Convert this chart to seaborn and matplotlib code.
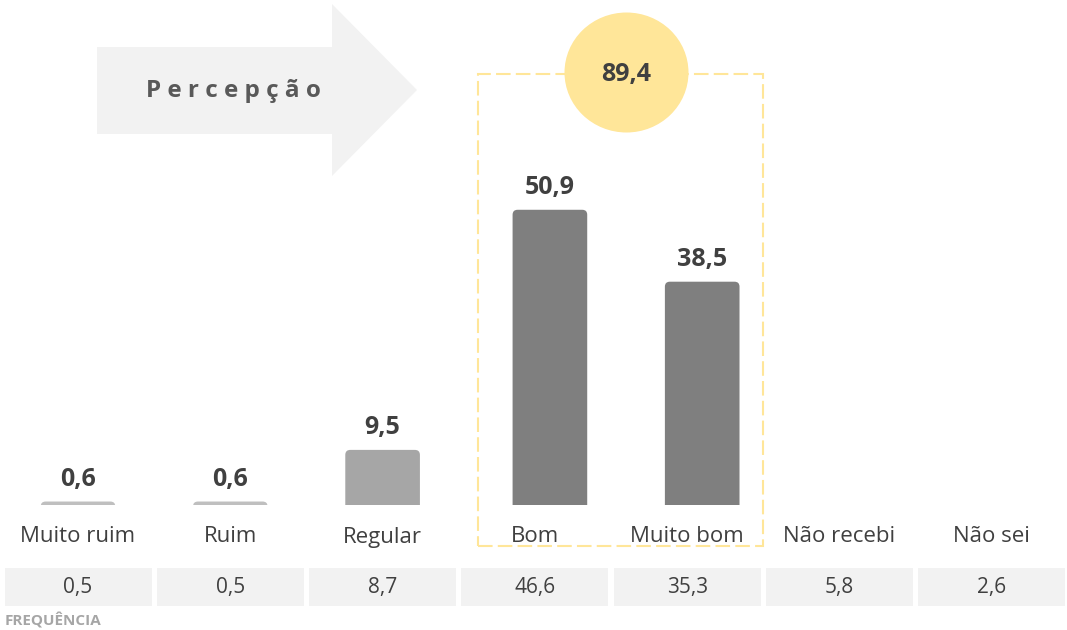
import matplotlib
matplotlib.use("Agg")
import matplotlib.pyplot as plt
import matplotlib.transforms as mtransforms
from matplotlib.patches import Polygon, Ellipse, Rectangle, FancyBboxPatch
import seaborn as sns
import pandas as pd

# Data
categories = ["Muito ruim", "Ruim", "Regular", "Bom", "Muito bom", "Não recebi", "Não sei"]
perception_cats = ["Muito ruim", "Ruim", "Regular", "Bom", "Muito bom"]
perception_vals = [0.6, 0.6, 9.5, 50.9, 38.5]
frequency_vals = [0.5, 0.5, 8.7, 46.6, 35.3, 5.8, 2.6]
positive_total = 89.4
highlighted = ["Bom", "Muito bom"]
bar_colors = ["#BFBFBF", "#BFBFBF", "#A6A6A6", "#7F7F7F", "#7F7F7F"]

sns.set_theme(style="white")
plt.rcParams["font.family"] = ["Open Sans", "DejaVu Sans"]

W, H = 1067, 630
fig = plt.figure(figsize=(W / 100, H / 100), dpi=100)
fig.patch.set_facecolor("white")

def fx(px):
    return px / W

def fy(py):
    return 1 - py / H

# Main bar axes: baseline at y=505 px, categories spaced ~152 px
step = 152.3
x0 = 78
px_per_unit = 5.8
ax = fig.add_axes([0, fy(505), 1, 505 / H])

df = pd.DataFrame({"cat": perception_cats, "val": perception_vals})
sns.barplot(data=df, x="cat", y="val", hue="cat", order=categories,
            hue_order=perception_cats, palette=bar_colors, legend=False,
            width=0.49, ax=ax, saturation=1)
ax.set_xlim(-x0 / step, (W - x0) / step)
ax.set_ylim(0, 505 / px_per_unit)
ax.axis("off")

# Replace plain rectangles by bars with rounded top corners
radius_px = 5
rx = radius_px / step
ry = radius_px / px_per_unit
bars = [p for p in ax.patches]
for p in bars:
    x, w, h = p.get_x(), p.get_width(), p.get_height()
    if not h == h:  # NaN height, no bar
        p.remove()
        continue
    center = x + w / 2
    cat = categories[int(round(center))]
    shift = 15 / step if cat in highlighted else 0
    rounded = FancyBboxPatch((x + shift, -ry), w, h + ry,
                             boxstyle=f"round,pad=0,rounding_size={rx}",
                             mutation_aspect=ry / rx,
                             facecolor=p.get_facecolor(), edgecolor="none",
                             clip_on=True)
    ax.add_patch(rounded)
    p.remove()
    ax.annotate(f"{h:.1f}".replace(".", ","), (center + shift, h),
                xytext=(0, 7), textcoords="offset points", ha="center",
                va="bottom", fontsize=18, fontweight="bold", color="#404040")

blend = mtransforms.blended_transform_factory(ax.transData, fig.transFigure)

# Category labels
for i, c in enumerate(categories):
    fig.text(i, fy(537), c, transform=blend, ha="center", va="center",
             fontsize=16, color="#404040")

# Frequency row
cell_w = 147 / step
for i, v in enumerate(frequency_vals):
    fig.patches.append(Rectangle((i - cell_w / 2, fy(606)), cell_w, (606 - 568) / H,
                                 transform=blend, facecolor="#F2F2F2",
                                 edgecolor="none", zorder=0))
    fig.text(i, fy(588), f"{v:.1f}".replace(".", ","), transform=blend,
             ha="center", va="center", fontsize=15, color="#404040")

fig.text(fx(5), fy(621), "FREQUÊNCIA", ha="left", va="center", fontsize=11,
         fontweight="bold", color="#A6A6A6")

# Arrow banner
arrow_pts = [(97, 47), (332, 47), (332, 4), (417, 90), (332, 176), (332, 134), (97, 134)]
fig.patches.append(Polygon([(fx(x), fy(y)) for x, y in arrow_pts], closed=True,
                           transform=fig.transFigure, facecolor="#F2F2F2",
                           edgecolor="none", zorder=0))
fig.text(fx(233), fy(91), "P e r c e p ç ã o", ha="center", va="center",
         fontsize=17.5, fontweight="bold", color="#595959")

# Dashed highlight box around the positive ratings
box = Rectangle((fx(478), fy(546)), fx(763) - fx(478), (546 - 74) / H,
                transform=fig.transFigure, facecolor="none", edgecolor="#FFE699",
                linewidth=1.5, linestyle=(0, (7, 2.5)), zorder=1)
fig.patches.append(box)

# Circle with total
fig.patches.append(Ellipse((fx(626.5), fy(72.5)), 124 / W, 120 / H,
                           transform=fig.transFigure, facecolor="#FFE699",
                           edgecolor="none", zorder=2))
fig.text(fx(626.5), fy(74), f"{positive_total:.1f}".replace(".", ","), ha="center",
         va="center", fontsize=18, fontweight="bold", color="#404040", zorder=3)

fig.savefig("out.png", dpi=100)
